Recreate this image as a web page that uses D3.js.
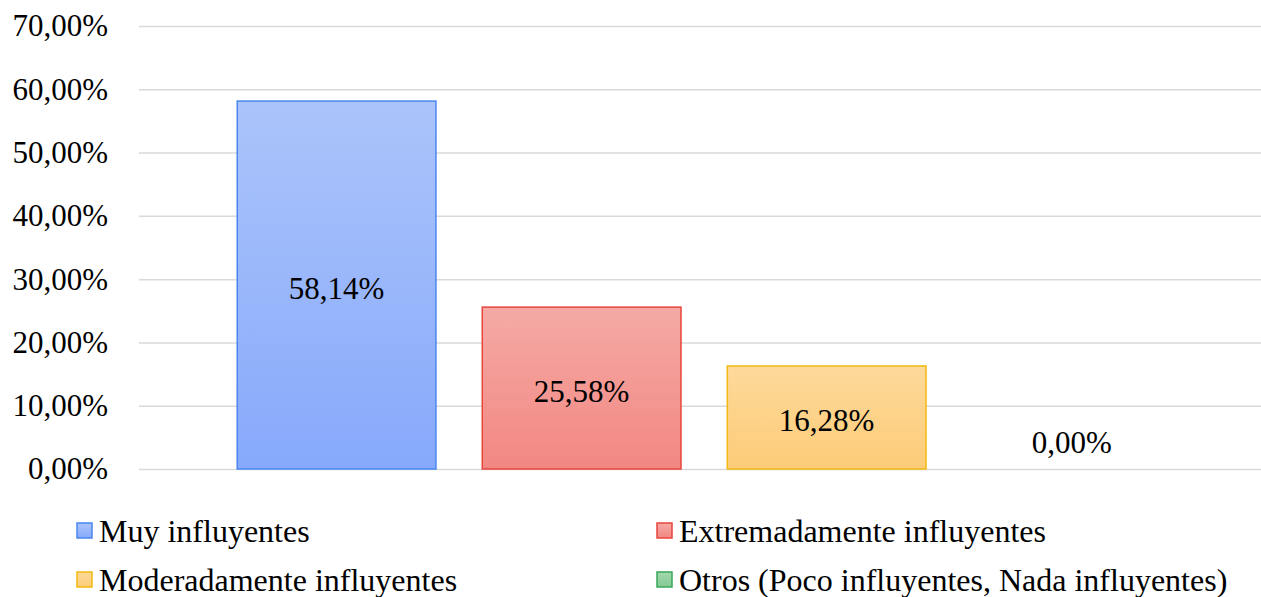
<!DOCTYPE html>
<html><head><meta charset="utf-8">
<script src="https://cdn.jsdelivr.net/npm/d3@7"></script>
<style>body{margin:0;background:#fff}svg{display:block}svg text{font-family:"Liberation Serif","Times New Roman",Tinos,serif}</style>
</head><body>
<script>
const series = ["Muy influyentes","Extremadamente influyentes","Moderadamente influyentes","Otros (Poco influyentes, Nada influyentes)"];
const values = [58.14, 25.58, 16.28, 0.00];
const yTicks = [0,10,20,30,40,50,60,70];
const fillTop = ["#abc4fa","#f5aaa5","#fdd99a","#a3d8ae"];
const fillBottom = ["#87a9fb","#f28782","#fdcc78","#85c995"];
const strokes = ["#4a86f0","#e8453c","#f2b90f","#3aa858"];

const W=1261,H=597;
const svg=d3.select("body").append("svg").attr("width",W).attr("height",H);
const font='"Liberation Serif","Times New Roman",Tinos,serif';
const m={left:139,right:0,top:26,bottom:128};
const y=d3.scaleLinear().domain([0,70]).range([H-m.bottom,m.top]);
const x=d3.scaleBand().domain(series).range([m.left,W-m.right]).paddingInner(0.189).paddingOuter(0.384).align(0.522);
const fmt=v=>d3.format(".2f")(v).replace(".",",")+"%";

const defs=svg.append("defs");
series.forEach((s,i)=>{
  const g=defs.append("linearGradient").attr("id","g"+i).attr("x1",0).attr("y1",0).attr("x2",0).attr("y2",1);
  g.append("stop").attr("offset",0).attr("stop-color",fillTop[i]);
  g.append("stop").attr("offset",1).attr("stop-color",fillBottom[i]);
});

const yAxis=d3.axisLeft(y).tickValues(yTicks).tickFormat(fmt).tickSize(-(W-m.left-m.right)).tickPadding(31);
const ga=svg.append("g").attr("transform",`translate(${m.left},0)`).call(yAxis).attr("font-family",null);
ga.select(".domain").remove();
ga.selectAll(".tick line").attr("stroke","#d9d9d9").attr("stroke-width",1.5);
ga.selectAll(".tick text").style("font-family",font).style("font-size","31px").attr("fill","#000");

svg.append("g").selectAll("rect").data(values).join("rect")
  .attr("x",(d,i)=>x(series[i]))
  .attr("y",d=>y(d))
  .attr("width",x.bandwidth())
  .attr("height",d=>y(0)-y(d))
  .attr("fill",(d,i)=>`url(#g${i})`)
  .attr("stroke",(d,i)=>strokes[i])
  .attr("stroke-width",d=>d>0?1.5:0);

svg.append("g").selectAll("text").data(values).join("text")
  .attr("x",(d,i)=>x(series[i])+x.bandwidth()/2)
  .attr("y",d=>d>0?(y(d)+y(0))/2:y(0)-30)
  .attr("dy","0.45em")
  .attr("text-anchor","middle")
  .style("font-family",font).style("font-size","31px").attr("fill","#000")
  .text(d=>fmt(d));

const legX=[77,657], legY=[531,580];
const lg=svg.append("g").selectAll("g").data(series).join("g")
  .attr("transform",(d,i)=>`translate(${legX[i%2]},${legY[Math.floor(i/2)]})`);
lg.append("rect").attr("x",0).attr("y",-8).attr("width",15).attr("height",15)
  .attr("fill",(d,i)=>`url(#g${i})`).attr("stroke",(d,i)=>strokes[i]).attr("stroke-width",1.5);
lg.append("text").attr("x",22).attr("y",0).attr("dy","0.35em")
  .style("font-family",font).style("font-size","32px").attr("fill","#000").text(d=>d);
</script>
</body></html>
